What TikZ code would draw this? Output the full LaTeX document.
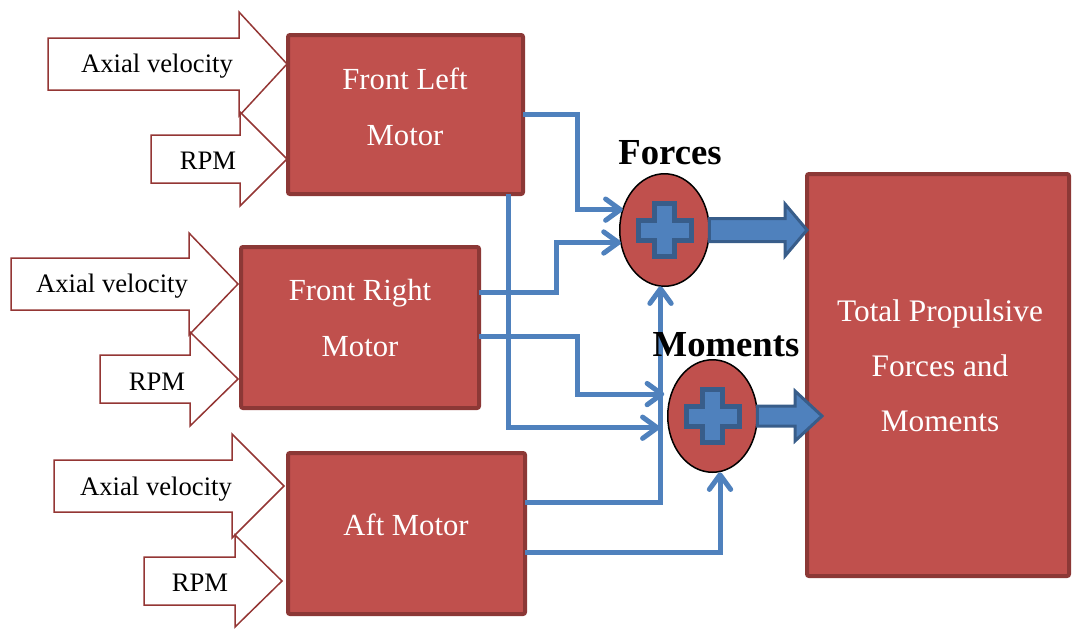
\documentclass[tikz,border=0pt]{standalone}
\usepackage{fontspec}
\setmainfont{Liberation Serif}
\usetikzlibrary{calc,arrows.meta,shapes.geometric}

% one drawing unit = 0.75pt
\newlength\pxl
\setlength\pxl{0.75pt}

\definecolor{boxred}{HTML}{C0504D}
\definecolor{boxedge}{HTML}{8C3836}
\definecolor{inedge}{HTML}{943634}
\definecolor{flowblue}{HTML}{4F81BD}
\definecolor{flowedge}{HTML}{385D8A}

% outlined input arrow: left x, head base x, tip x, centre y, body half height, head half height
\newcommand\inarrow[6]{%
  \draw[inshape] (#1,#4-#5) -- (#2,#4-#5) -- (#2,#4-#6) -- (#3,#4)
    -- (#2,#4+#6) -- (#2,#4+#5) -- (#1,#4+#5) -- cycle;}

% thick block arrow: tail, tip, body half width, head half width, head length
\newcommand\blockarrow[5]{%
  \draw[blockarr] let \p1=(#1), \p2=(#2) in
    (\x1,{\y2+#3\pxl}) -- ({\x2-#5\pxl},{\y2+#3\pxl}) -- ({\x2-#5\pxl},{\y2+#4\pxl})
    -- (\x2,\y2) -- ({\x2-#5\pxl},{\y2-#4\pxl}) -- ({\x2-#5\pxl},{\y2-#3\pxl})
    -- (\x1,{\y2-#3\pxl}) -- cycle;}

% plus mark centred on a node
\newcommand\plusmark[1]{%
  \draw[plusshape,shift={(#1)}] (-10,-26.5) -- (10,-26.5) -- (10,-10) -- (26.5,-10)
    -- (26.5,10) -- (10,10) -- (10,26.5) -- (-10,26.5) -- (-10,10) -- (-26.5,10)
    -- (-26.5,-10) -- (-10,-10) -- cycle;}

\begin{document}
\begin{tikzpicture}[x=0.75pt,y=-0.75pt,
  inshape/.style={draw=inedge,fill=white,line width=1.5\pxl},
  intext/.style={font=\fontsize{20}{24}\selectfont,anchor=base,inner sep=0},
  motor/.style={draw=boxedge,fill=boxred,line width=4\pxl,rounded corners=1.5pt,
    inner sep=0,outer sep=0},
  mtext/.style={text=white,align=center,inner sep=0,font=\fontsize{23}{42}\selectfont},
  sum/.style={ellipse,draw=black,fill=boxred,line width=1.5\pxl,
    minimum width=89.5\pxl,minimum height=112.5\pxl,inner sep=0,outer sep=0},
  sumlabel/.style={font=\bfseries\fontsize{27.5}{33}\selectfont,inner sep=0},
  plusshape/.style={draw=flowedge,fill=flowblue,line width=5\pxl},
  blockarr/.style={draw=flowedge,fill=flowblue,line width=3\pxl},
  conn/.style={draw=flowblue,line width=5\pxl,
    -{Straight Barb[length=11pt,width=16pt,round]}}]

\useasboundingbox (0,0) rectangle (1073,628);

% input arrows
\inarrow{48}{239}{287}{64}{26}{52}
\inarrow{151}{240}{287}{159}{24}{47}
\inarrow{11}{189}{238}{284}{26}{51}
\inarrow{100}{190}{238}{379}{24}{47}
\inarrow{54}{232}{284}{486}{26}{52}
\inarrow{144}{235}{282}{581}{24}{46}

\node[intext] (fl-av)  at (157,72.7) {Axial velocity};
\node[intext] (fl-rpm) at (208,169)  {RPM};
\node[intext] (fr-av)  at (112,292.7) {Axial velocity};
\node[intext] (fr-rpm) at (157,390)  {RPM};
\node[intext] (aft-av) at (156,495)  {Axial velocity};
\node[intext] (aft-rpm) at (200,591.7) {RPM};

% motor blocks
\node[motor,minimum width=235\pxl,minimum height=159\pxl] (fl) at (405.5,114.5) {};
\node[motor,minimum width=238\pxl,minimum height=161\pxl] (fr) at (360,327.5) {};
\node[motor,minimum width=237\pxl,minimum height=161\pxl] (aft) at (406.5,533.5) {};
\node[motor,minimum width=262\pxl,minimum height=402\pxl] (tot) at (938,375) {};

\node[mtext] (fl-t)  at (405,106.6) {Front Left\\Motor};
\node[mtext] (fr-t)  at (360,317.6) {Front Right\\Motor};
\node[mtext,anchor=base] (aft-t) at (406,535) {Aft Motor};
\node[mtext,font=\fontsize{23.5}{41.25}\selectfont] (tot-t) at (940,366)
  {Total Propulsive\\Forces and\\Moments};

% summing junctions
\node[sum] (fo) at (664.5,230) {};
\node[sum] (mo) at (712.5,416) {};
\plusmark{fo.center}
\plusmark{mo.center}

% signal lines
\draw[conn] (fl.east) -- ++(54,0) |- (fo.154);
\draw[conn] ([yshift=25.9pt]fr.east) -- ++(77,0) |- (fo.196);
\draw[conn] ([yshift=-6.4pt]fr.east) -- ++(98,0) |- ($(mo.152)+(-7,0)$);
\draw[conn] ([xshift=76.9pt]fl.south) |- ($(mo.195)+(-9,0)$);
\draw[conn] ([yshift=23.6pt]aft.east) -| ($(fo.south)+(-4,0)$);
\draw[conn] ([yshift=-13.9pt]aft.east) -| ($(mo.south)+(7.5,0)$);

% outputs to the total block
\coordinate (ftip) at (tot.west |- fo.east);
\coordinate (mtip) at ($(tot.west |- mo.east)+(15,0)$);
\blockarrow{fo.east}{ftip}{11.5}{26}{22}
\blockarrow{mo.east}{mtip}{10}{25}{27}

\node[sumlabel] (fo-l) at (670,153) {Forces};
\node[sumlabel] (mo-l) at (726,345) {Moments};

\end{tikzpicture}
\end{document}
